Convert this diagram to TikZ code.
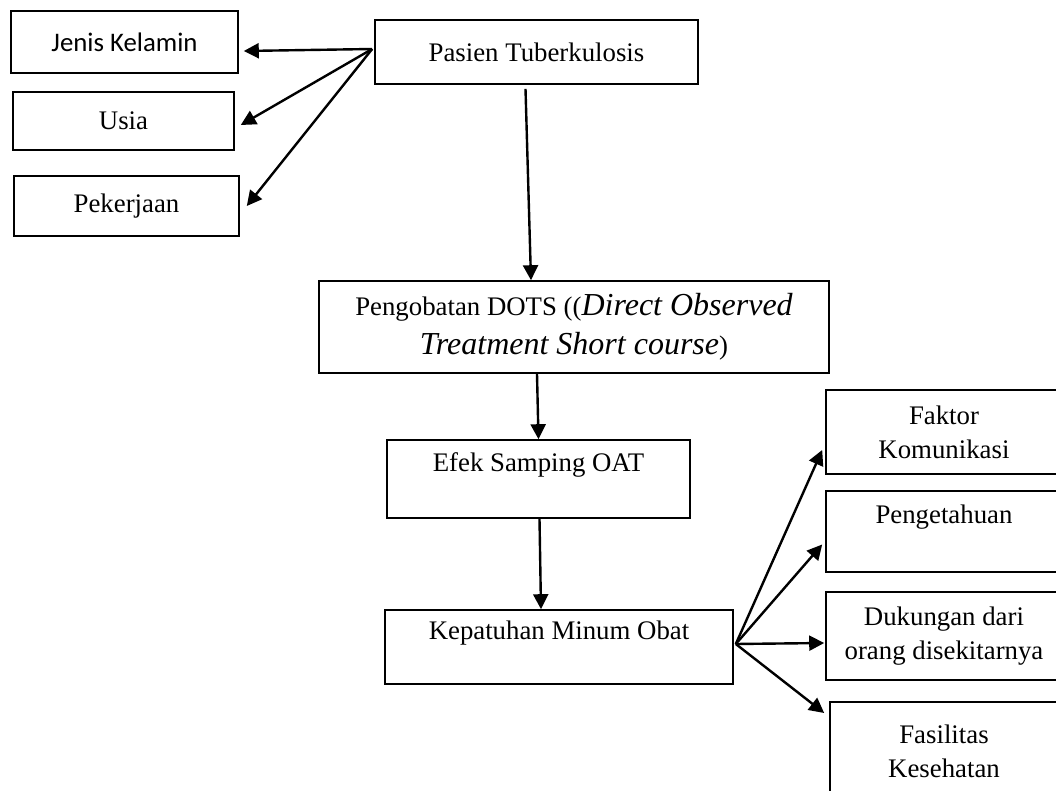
\documentclass[tikz,border=0pt]{standalone}
\usepackage{fontspec}
\setmainfont{Liberation Serif}
\newfontfamily\calibri{Carlito}
\usetikzlibrary{arrows.meta,calc}
\tikzset{
    box/.style={draw, line width=.8pt, align=center, inner sep=0pt, font=\fontsize{13.4}{17}\selectfont},
    arr/.style={-{Triangle[length=7.5pt,width=7.5pt]}, line width=1.2pt}
}
\newcommand{\bigit}[1]{{\fontsize{16}{19.5}\selectfont\itshape #1}}
\begin{document}
\begin{tikzpicture}[x=.5pt, y=-.5pt]
\useasboundingbox (0,0) rectangle (1056,791);
\clip (0,0) rectangle (1056,791);

\node[box, minimum width=113.5pt, minimum height=31pt, font=\calibri\fontsize{13.4}{17}\selectfont] (jenis) at (124.5,42) {Jenis Kelamin};
\node[box, minimum width=110.5pt, minimum height=29pt] (usia) at (123.5,121) {Usia};
\node[box, minimum width=112.5pt, minimum height=30pt] (pekerjaan) at (126.5,206) {Pekerjaan};
\node[box, minimum width=161.5pt, minimum height=32pt] (pasien) at (536.5,52) {Pasien Tuberkulosis};
\node[box, minimum width=255pt, minimum height=46pt, font=\fontsize{13.4}{19.5}\selectfont] (pengobatan) at (574,327)
    {Pengobatan DOTS ((\bigit{Direct Observed}\\\bigit{Treatment Short course})};
\node[box, minimum width=151.5pt, minimum height=39pt] (efek) at (538.5,479) {Efek Samping OAT\\~};
\node[box, minimum width=174pt, minimum height=37pt] (kepatuhan) at (559,647) {Kepatuhan Minum Obat\\~};

\node[box, minimum width=118pt, minimum height=42pt] (faktor) at (944,432) {Faktor\\Komunikasi};
\node[box, minimum width=118pt, minimum height=40.5pt] (pengetahuan) at (944,531.5) {Pengetahuan\\~};
\node[box, minimum width=118pt, minimum height=44pt] (dukungan) at (944,636) {Dukungan dari\\orang disekitarnya};
\node[box, minimum width=114pt, minimum height=49pt] (fasilitas) at (944,751) {Fasilitas\\Kesehatan};

\coordinate (ps) at ($(pasien.west)+(-2,-3)$);
\draw[arr] (ps)--($(jenis.east)+(5,9)$);
\draw[arr] (ps)--($(usia.east)+(6,4)$);
\draw[arr] (ps)--($(pekerjaan.east)+(7,0)$);

\draw[arr] ($(pasien.south)+(-11,4)$)--($(pengobatan.north)+(-43,0)$);
\draw[arr] ($(pengobatan.south)+(-37,0)$)--(efek.north);
\draw[arr] ($(efek.south)+(1,0)$)--($(kepatuhan.north)+(-18,0)$);

\coordinate (kp) at ($(kepatuhan.east)+(2,-3)$);
\draw[arr] (kp)--($(faktor.west)+(-3,18)$);
\draw[arr] (kp)--($(pengetahuan.west)+(-3,13)$);
\draw[arr] (kp)--($(dukungan.west)+(-1,7)$);
\draw[arr] (kp)--($(fasilitas.west)+(-5,-38)$);
\end{tikzpicture}
\end{document}
